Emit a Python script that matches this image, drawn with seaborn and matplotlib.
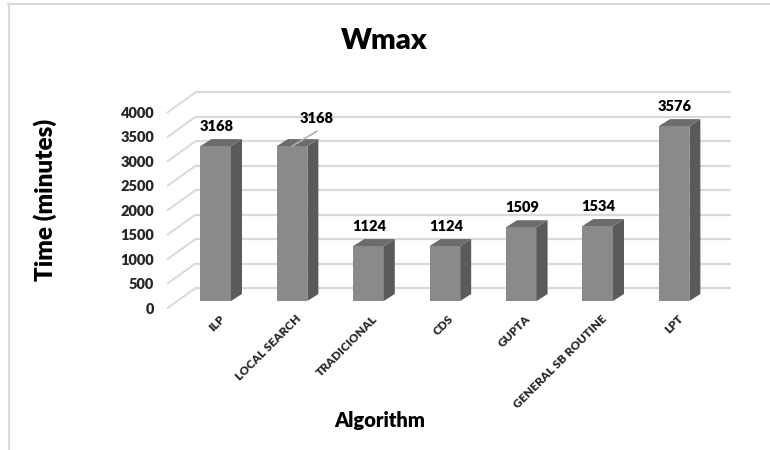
import matplotlib
matplotlib.use("Agg")
import matplotlib.pyplot as plt
import matplotlib.transforms as mtransforms
from matplotlib.patches import Polygon
from matplotlib.lines import Line2D
import seaborn as sns
import pandas as pd

# Chart data
algorithms = ["ILP", "LOCAL SEARCH", "TRADICIONAL", "CDS", "GUPTA",
              "GENERAL SB ROUTINE", "LPT"]
wmax_minutes = [3168, 3168, 1124, 1124, 1509, 1534, 3576]
y_ticks = [0, 500, 1000, 1500, 2000, 2500, 3000, 3500, 4000]

sns.set_theme(style="white")
plt.rcParams["font.family"] = ["Lato", "DejaVu Sans"]

FRONT = "#8a8a8a"
SIDE = "#5a5a5a"
TOP = "#6c6c6c"
GRID = "#d9d9d9"
WEIGHT = "heavy"

W, H, DPI = 770, 450, 100
fig = plt.figure(figsize=(W / DPI, H / DPI), dpi=DPI)
fig.patch.set_facecolor("white")

# axes box = the plane holding the bar front faces (pixel geometry)
ax_left, ax_right = 177.5, 712.3
ax_bottom, ax_top = 301.0, 105.4
ax = fig.add_axes([ax_left / W, (H - ax_bottom) / H,
                   (ax_right - ax_left) / W, (ax_bottom - ax_top) / H])
ax.set_facecolor("none")

df = pd.DataFrame({"Algorithm": algorithms, "Time": wmax_minutes})
sns.barplot(data=df, x="Algorithm", y="Time", color=FRONT, saturation=1,
            width=0.4, ax=ax, zorder=3, linewidth=0)

ax.set_xlim(-0.5, len(algorithms) - 0.5)
ax.set_ylim(0, 4000)
for s in ax.spines.values():
    s.set_visible(False)
ax.grid(False)

# pixel -> data conversion for depth offsets
px_x = (ax_right - ax_left) / (len(algorithms))
px_y = (ax_bottom - ax_top) / 4000.0
def dxp(p):
    return p / px_x
def dyp(p):
    return p / px_y

# back wall gridlines and floor/side slants
wall_dx, wall_dy = 18, 13
front_dx, front_dy = -10, -7
x_lo, x_hi = ax.get_xlim()
for v in y_ticks:
    ax.add_line(Line2D([x_lo + dxp(wall_dx), x_hi + dxp(wall_dx)],
                       [v + dyp(wall_dy), v + dyp(wall_dy)],
                       color=GRID, lw=1.6, zorder=1, clip_on=False))
    ax.add_line(Line2D([x_lo + dxp(front_dx), x_lo + dxp(wall_dx)],
                       [v + dyp(front_dy), v + dyp(wall_dy)],
                       color=GRID, lw=1.4, zorder=1, clip_on=False))

# 3D side and top faces of each bar
bdx, bdy = dxp(11), dyp(7)
for bar in list(ax.patches):
    x0 = bar.get_x()
    x1 = x0 + bar.get_width()
    h = bar.get_height()
    side = Polygon([(x1, 0), (x1 + bdx, bdy), (x1 + bdx, h + bdy), (x1, h)],
                   closed=True, facecolor=SIDE, edgecolor="none",
                   zorder=3, clip_on=False)
    top = Polygon([(x0, h), (x1, h), (x1 + bdx, h + bdy), (x0 + bdx, h + bdy)],
                  closed=True, facecolor=TOP, edgecolor="none",
                  zorder=3, clip_on=False)
    ax.add_patch(side)
    ax.add_patch(top)
    bar.set_clip_on(False)

# value labels
for i, v in enumerate(wmax_minutes):
    if algorithms[i] == "LOCAL SEARCH":
        ax.annotate("", xy=(i, v), xytext=(25 * 0.72, 15 * 0.72),
                    textcoords="offset points",
                    arrowprops=dict(arrowstyle="-", color="#b0b0b0", lw=1.2,
                                    shrinkA=0, shrinkB=0),
                    zorder=4, annotation_clip=False)
        ax.annotate(str(v), xy=(i, v), xytext=(25 * 0.72, 27.7 * 0.72),
                    textcoords="offset points", ha="center", va="center",
                    fontsize=10.5, fontweight=WEIGHT, color="black",
                    zorder=5, annotation_clip=False)
    else:
        ax.annotate(str(v), xy=(i, v), xytext=(1 * 0.72, 19.5 * 0.72),
                    textcoords="offset points", ha="center", va="center",
                    fontsize=10.5, fontweight=WEIGHT, color="black",
                    zorder=5, annotation_clip=False)

# y tick labels on the front edge of the floor
ax.set_yticks(y_ticks)
ax.set_yticklabels([str(t) for t in y_ticks])
ax.tick_params(axis="y", length=0, pad=23.5 * 0.72, labelsize=10.5)
shift_down = mtransforms.ScaledTranslation(0, -7 / DPI, fig.dpi_scale_trans)
for lab in ax.get_yticklabels():
    lab.set_fontweight(WEIGHT)
    lab.set_transform(lab.get_transform() + shift_down)

# x tick labels, rotated
ax.tick_params(axis="x", length=0, pad=12 * 0.72, labelsize=8.5)
shift_right = mtransforms.ScaledTranslation(3 / DPI, 0, fig.dpi_scale_trans)
for lab in ax.get_xticklabels():
    lab.set_rotation(45)
    lab.set_ha("right")
    lab.set_va("top")
    lab.set_rotation_mode("anchor")
    lab.set_fontweight(WEIGHT)
    lab.set_transform(lab.get_transform() + shift_right)
ax.set_xlabel("")
ax.set_ylabel("")

# titles
fig.text(384 / W, 1 - 41 / H, "Wmax", ha="center", va="center",
         fontsize=21, fontweight=WEIGHT, color="black")
fig.text(45 / W, 1 - 200 / H, "Time (minutes)", ha="center", va="center",
         rotation=90, fontsize=17.5, fontweight=WEIGHT, color="black")
fig.text(380 / W, 1 - 420 / H, "Algorithm", ha="center", va="center",
         fontsize=14.5, fontweight=WEIGHT, color="black")

# chart area border (top and left)
fig.add_artist(Line2D([8 / W, 1], [1 - 4 / H, 1 - 4 / H],
                      transform=fig.transFigure, color=GRID, lw=1.5))
fig.add_artist(Line2D([9 / W, 9 / W], [0, 1 - 4 / H],
                      transform=fig.transFigure, color=GRID, lw=1.5))

fig.savefig("out.png", dpi=DPI)
